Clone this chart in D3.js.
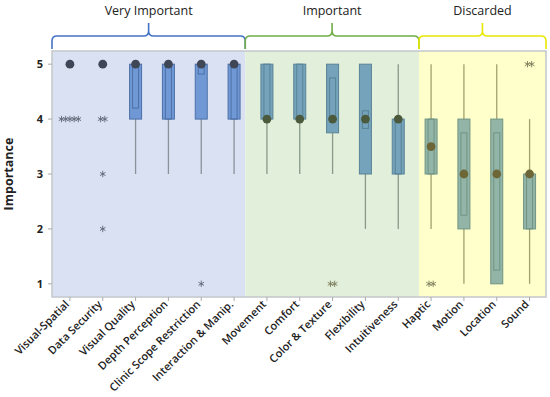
<!DOCTYPE html>
<html><head><meta charset="utf-8">
<script src="https://cdn.jsdelivr.net/npm/d3@7"></script>
<style>body{margin:0;background:#fff}svg{display:block}</style>
</head><body>
<svg id="c" width="550" height="397"></svg>
<script>
const categories = ["Visual-Spatial","Data Security","Visual Quality","Depth Perception","Clinic Scope Restriction","Interaction & Manip.","Movement","Comfort","Color & Texture","Flexibility","Intuitiveness","Haptic","Motion","Location","Sound"];
const groupOf =    [0,0,0,0,0,0,1,1,1,1,1,2,2,2,2];
const q1 =      [5,5,4,4,4,4,4,4,3.75,3,3,3,2,1,2];
const q3 =      [5,5,5,5,5,5,5,5,5,5,4,4,4,4,3];
const whiskLo = [5,5,3,3,3,3,3,3,3,2,2,2,1,1,1];
const whiskHi = [5,5,5,5,5,5,5,5,5,5,5,5,5,5,4];
const center =  [5,5,5,5,5,5,4,4,4,4,4,3.5,3,3,3];
const ciLo =    [5,5,4.2,4,4.82,4,4,4,4,3.83,3,3,2.25,1.25,2];
const ciHi =    [5,5,5,5,5,5,5,5,4.75,4.15,4,4,3.75,3.75,3];
const outliers = [
  {cat:"Visual-Spatial", value:4, count:5},
  {cat:"Data Security", value:4, count:2},
  {cat:"Data Security", value:3, count:1},
  {cat:"Data Security", value:2, count:1},
  {cat:"Clinic Scope Restriction", value:1, count:1},
  {cat:"Color & Texture", value:1, count:2},
  {cat:"Haptic", value:1, count:2},
  {cat:"Sound", value:5, count:2}
];
const groups = ["Very Important","Important","Discarded"];
const groupSpan = [[0,5.84],[5.84,11.13],[11.13,15]];
const yTicks = [1,2,3,4,5];

const bg = ["#d9e1f3","#e2efda","#ffffcc"];
const brace = ["#4472c4","#70ad47","#e8e800"];
const boxFill = ["#6f98d4","#74a3bb","#93b5a8"];
const boxStroke = ["#4d70a8","#5a8397","#6f9483"];
const dotCol = ["#3f4756","#4b5a3c","#6d6636"];
const lineCol = ["#8b929c","#8a998a","#a3a16d"];

const svg = d3.select("#c");
const L=52, R=546, T=51, B=297;
const x = d3.scaleBand().domain(categories).range([L+1.5,R]).padding(0);
const y = d3.scaleLinear().domain([0.76,5.24]).range([B,T]);
const xu = d3.scaleLinear().domain([0,15]).range([L+1.5,R]);

groups.forEach((g,i)=>{
  const x0 = i===0? L : xu(groupSpan[i][0]);
  const x1 = xu(groupSpan[i][1]);
  svg.append("rect").attr("x",x0).attr("y",T).attr("width",x1-x0).attr("height",B-T).attr("fill",bg[i]);
  const xm=(x0+x1)/2, yb=49, yl=36, yp=23, r=5;
  const p = `M${x0},${yb} L${x0},${yl+r} Q${x0},${yl} ${x0+r},${yl} L${xm-r},${yl} Q${xm},${yl} ${xm},${yl-r} L${xm},${yp} M${xm},${yl-r} Q${xm},${yl} ${xm+r},${yl} L${x1-r},${yl} Q${x1},${yl} ${x1},${yl+r} L${x1},${yb}`;
  svg.append("path").attr("d",p).attr("fill","none").attr("stroke",brace[i]).attr("stroke-width",1.6);
  svg.append("text").attr("x",xm).attr("y",15).attr("text-anchor","middle")
    .attr("font-family","Open Sans, sans-serif").attr("font-size",12.5).attr("fill","#222").text(g);
});
svg.append("rect").attr("x",L).attr("y",T).attr("width",R-L).attr("height",B-T)
  .attr("fill","none").attr("stroke","#c4c7cc").attr("stroke-width",1.5);

categories.forEach((c,i)=>{
  const g=groupOf[i], cx=x(c)+x.bandwidth()/2, bw=12, iw=6;
  svg.append("line").attr("x1",cx).attr("x2",cx).attr("y1",y(whiskHi[i])).attr("y2",y(whiskLo[i]))
    .attr("stroke",lineCol[g]).attr("stroke-width",1.3);
  if(q3[i]>q1[i]){
    svg.append("rect").attr("x",cx-bw/2).attr("y",y(q3[i])).attr("width",bw).attr("height",y(q1[i])-y(q3[i]))
      .attr("fill",boxFill[g]).attr("stroke",boxStroke[g]).attr("stroke-width",1);
  }
  if(ciHi[i]>ciLo[i]){
    svg.append("rect").attr("x",cx-iw/2).attr("y",y(ciHi[i])).attr("width",iw).attr("height",y(ciLo[i])-y(ciHi[i]))
      .attr("fill","none").attr("stroke",boxStroke[g]).attr("stroke-width",1);
  }
  svg.append("circle").attr("cx",cx).attr("cy",y(center[i])).attr("r",4.4).attr("fill",dotCol[g]);
});

const star = d3.symbol().type(d3.symbolAsterisk).size(28);
outliers.forEach(o=>{
  const i=categories.indexOf(o.cat), g=groupOf[i];
  const cx=x(o.cat)+x.bandwidth()/2;
  for(let k=0;k<o.count;k++){
    const dx=(k-(o.count-1)/2)*4.2;
    svg.append("path").attr("d",star).attr("transform",`translate(${cx+dx},${y(o.value)})`)
      .attr("fill","none").attr("stroke",g===0?"#5f6675":"#7a7d5a").attr("stroke-width",0.9);
  }
});

yTicks.forEach(t=>{
  svg.append("line").attr("x1",L-4).attr("x2",L).attr("y1",y(t)).attr("y2",y(t)).attr("stroke","#aaa");
  svg.append("text").attr("x",L-9).attr("y",y(t)+4).attr("text-anchor","end")
    .attr("font-family","Open Sans, sans-serif").attr("font-weight","bold").attr("font-size",11).attr("fill","#222").text(t);
});
svg.append("text").attr("transform",`translate(13,${(T+B)/2}) rotate(-90)`).attr("text-anchor","middle")
  .attr("font-family","Open Sans, sans-serif").attr("font-weight","bold").attr("font-size",12.5).attr("fill","#222").text("Importance");

categories.forEach(c=>{
  const cx=x(c)+x.bandwidth()/2;
  svg.append("line").attr("x1",cx).attr("x2",cx).attr("y1",B).attr("y2",B+4).attr("stroke","#aaa");
  svg.append("text").attr("transform",`translate(${cx},${B+8}) rotate(-45)`).attr("text-anchor","end")
    .attr("font-family","Open Sans, sans-serif").attr("font-weight","600").attr("font-size",11).attr("fill","#222").text(c);
});
</script>
</body></html>
